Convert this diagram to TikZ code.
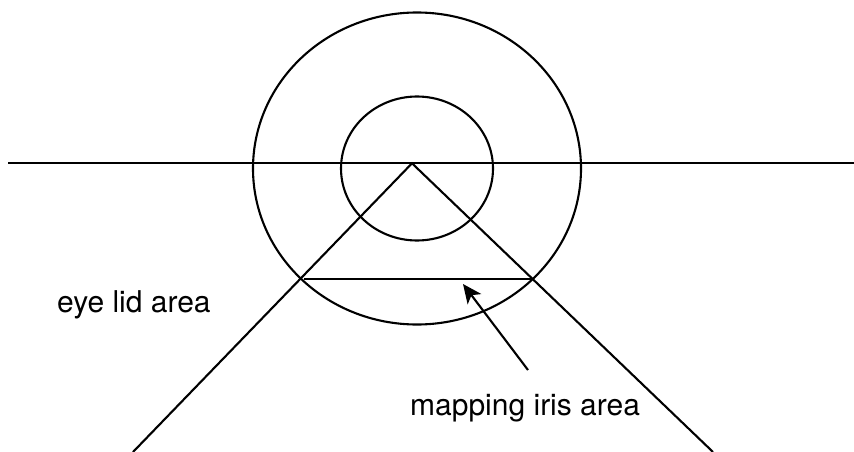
\documentclass[tikz,border=0pt]{standalone}
\usepackage{fontspec}
\setmainfont{TeX Gyre Heros}
\usetikzlibrary{arrows.meta,positioning}
\tikzset{
	trazo/.style={
		line width=2.1pt,
		black
	},
	etiqueta/.style={
		inner sep=0pt,
		anchor=base west,
		font=\fontsize{30}{36}\selectfont
	},
	flecha/.style={
		-{Stealth[length=19pt,width=17pt,inset=5pt]},
		line width=2.1pt,
		black
	}
}
\begin{document}
\begin{tikzpicture}[x=1pt,y=-1pt]
		\useasboundingbox (0,0) rectangle (854,452);
		% eye outline
		\coordinate (centro) at (417,168.5);
		\draw[trazo] (centro) ellipse [x radius=164pt, y radius=156pt];
		\draw[trazo] (centro) ellipse [x radius=76pt, y radius=72pt];
		\coordinate (horizIzq) at (8,163.3);
		\coordinate (horizDer) at (854,163.3);
		\draw[trazo] (horizIzq) -- (horizDer);
		% view cone
		\coordinate (vertice) at (412,163.3);
		\coordinate (pieIzq) at (133,452);
		\coordinate (pieDer) at (713,452);
		\draw[trazo] (pieIzq) -- (vertice) -- (pieDer);
		\coordinate (cuerdaIzq) at (304,279);
		\coordinate (cuerdaDer) at (533,279);
		\draw[trazo] (cuerdaIzq) -- (cuerdaDer);
		% labels
		\node[etiqueta] (parpado) at (57,312) {eye lid area};
		\node[etiqueta] (iris) at (410,415) {mapping iris area};
		\coordinate (colaFlecha) at (528,370);
		\coordinate (puntaFlecha) at (463,284);
		\draw[flecha] (colaFlecha) -- (puntaFlecha);
	\end{tikzpicture}
\end{document}
